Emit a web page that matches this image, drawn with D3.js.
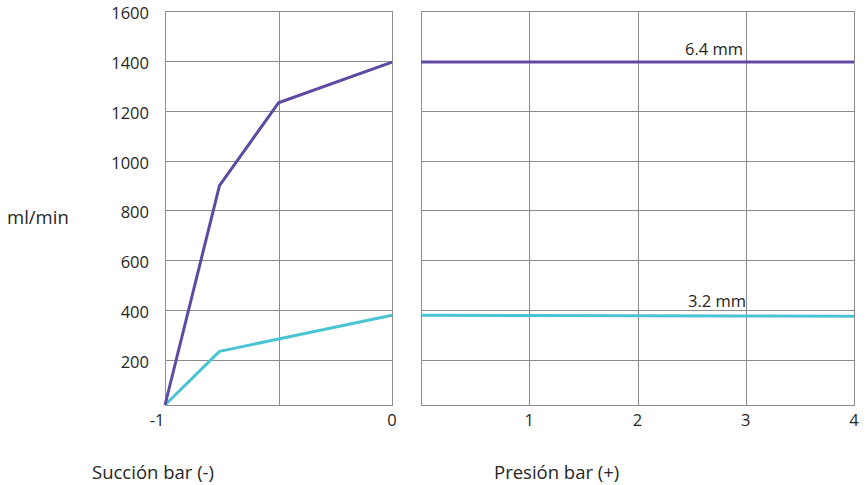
<!DOCTYPE html>
<html><head><meta charset="utf-8">
<script src="https://cdn.jsdelivr.net/npm/d3@7"></script>
<style>body{margin:0;background:#fff}text{font-family:"Open Sans",sans-serif;fill:#262626}</style>
</head><body><svg id="c" width="867" height="485"></svg>
<script>
const yTicks = [200, 400, 600, 800, 1000, 1200, 1400, 1600];
const suctionX = [-1, -0.76, -0.5, 0];
const suction64 = [20, 900, 1232, 1395];
const suction32 = [20, 235, 285, 380];
const suctionTickLabels = [-1, 0];
const pressureX = [0, 1, 2, 3, 4];
const pressure64 = [1395, 1395, 1395, 1395, 1395];
const pressure32 = [380, 379, 378, 377, 376];
const pressureTicks = [1, 2, 3, 4];
const seriesLabels = ["6.4 mm", "3.2 mm"];
const colors = ["#5e4ba1", "#4ac3d3"];

const svg = d3.select("#c");
const y = d3.scaleLinear().domain([20, 1600]).range([405, 11]);
const xL = d3.scaleLinear().domain([-1, 0]).range([165, 392]);
const xR = d3.scaleLinear().domain([0, 4]).range([421, 854]);
const grid = "#8c8c8c";

function panel(x, xGrid) {
  const g = svg.append("g");
  g.selectAll(".h").data(yTicks).join("line")
    .attr("x1", x.range()[0]).attr("x2", x.range()[1])
    .attr("y1", d => Math.round(y(d)) + 0.5).attr("y2", d => Math.round(y(d)) + 0.5)
    .attr("stroke", grid).attr("stroke-width", 1);
  g.selectAll(".v").data(xGrid).join("line")
    .attr("x1", d => Math.round(x(d)) + 0.5).attr("x2", d => Math.round(x(d)) + 0.5)
    .attr("y1", y(1600)).attr("y2", y(20))
    .attr("stroke", grid).attr("stroke-width", 1);
  g.append("rect").attr("x", x.range()[0] + 0.5).attr("y", Math.round(y(1600)) + 0.5)
    .attr("width", x.range()[1] - x.range()[0]).attr("height", Math.round(y(20)) - Math.round(y(1600)))
    .attr("fill", "none").attr("stroke", grid).attr("stroke-width", 1);
}
panel(xL, [-0.5, 0]);
panel(xR, pressureTicks);

const tickFs = 16.5;
svg.selectAll(".yl").data(yTicks).join("text")
  .attr("x", 149).attr("y", d => y(d) + 8).attr("text-anchor", "end")
  .attr("font-size", tickFs).text(d => d);

svg.selectAll(".xl").data(suctionTickLabels).join("text")
  .attr("x", d => xL(d) - (d < 0 ? 8 : 0)).attr("y", 426).attr("text-anchor", "middle")
  .attr("font-size", tickFs).text(d => d);
svg.selectAll(".xr").data(pressureTicks).join("text")
  .attr("x", d => xR(d)).attr("y", 426).attr("text-anchor", "middle")
  .attr("font-size", tickFs).text(d => d);

const lineL = d3.line().x(d => xL(d[0])).y(d => y(d[1]));
const lineR = d3.line().x(d => xR(d[0])).y(d => y(d[1]));
[suction32, suction64].forEach((s, i) => {
  svg.append("path").attr("d", lineL(suctionX.map((v, j) => [v, s[j]])))
    .attr("fill", "none").attr("stroke", colors[1 - i]).attr("stroke-width", 3)
    .attr("stroke-linejoin", "round");
});
[pressure32, pressure64].forEach((s, i) => {
  svg.append("path").attr("d", lineR(pressureX.map((v, j) => [v, s[j]])))
    .attr("fill", "none").attr("stroke", colors[1 - i]).attr("stroke-width", 3);
});

svg.append("text").attr("x", 743).attr("y", y(pressure64[3]) - 7).attr("text-anchor", "end")
  .attr("font-size", tickFs).text(seriesLabels[0]);
svg.append("text").attr("x", 746).attr("y", y(pressure32[3]) - 9).attr("text-anchor", "end")
  .attr("font-size", tickFs).text(seriesLabels[1]);

const titleFs = 18.5;
svg.append("text").attr("x", 7).attr("y", 224).attr("font-size", titleFs).text("ml/min");
svg.append("text").attr("x", 92).attr("y", 479).attr("font-size", titleFs).text("Succión bar (-)");
svg.append("text").attr("x", 494).attr("y", 479).attr("font-size", titleFs).text("Presión bar (+)");
</script></body></html>
